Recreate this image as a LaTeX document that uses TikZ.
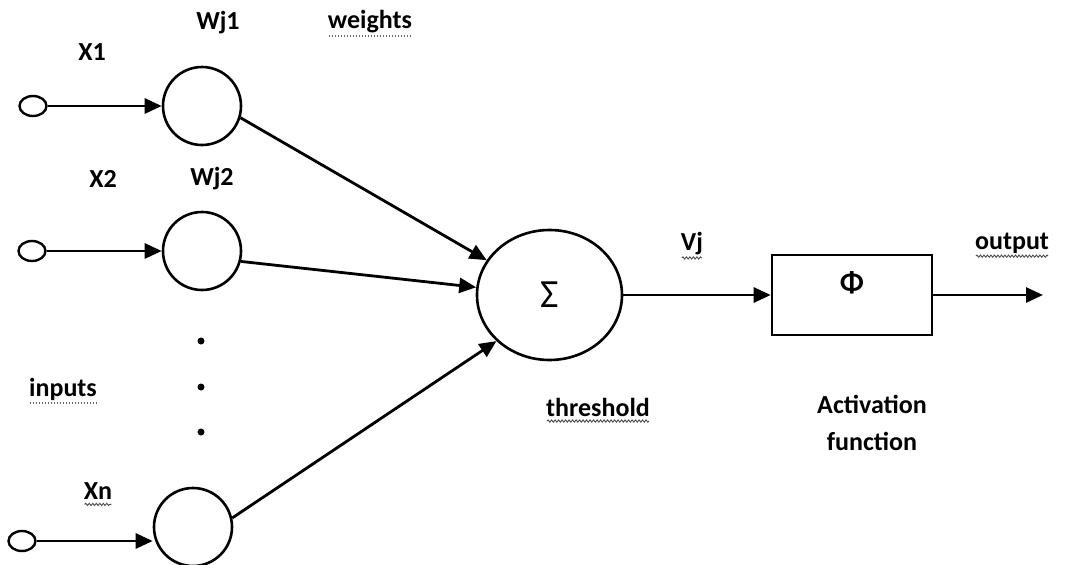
\documentclass[tikz,border=0pt]{standalone}
\usepackage{fontspec}
\setmainfont{Carlito}
\usetikzlibrary{arrows.meta,shapes.geometric,decorations.pathmorphing,calc}

\begin{document}
\begin{tikzpicture}[x=1pt,y=-1pt,
  every node/.style={font=\bfseries\fontsize{26}{37}\selectfont, inner sep=1pt},
  term/.style={draw, ellipse, minimum width=27pt, minimum height=20pt, inner sep=0pt, line width=2.4pt},
  wcirc/.style={draw, circle, minimum size=78pt, inner sep=0pt, line width=2.6pt},
  sumell/.style={draw, ellipse, minimum width=145pt, minimum height=130pt, inner sep=0pt,
                 line width=2.6pt, font=\fontsize{40}{42}\selectfont},
  actbox/.style={draw, rectangle, minimum width=160pt, minimum height=80pt, inner sep=0pt, line width=2.6pt},
  dotmark/.style={circle, fill, minimum size=7pt, inner sep=0pt},
  conn/.style={line width=2.8pt, -{Triangle[length=17pt,width=15pt]}},
  squiggle/.style={draw=black!70, line width=0.9pt, decorate,
                   decoration={snake, segment length=3.5pt, amplitude=1.1pt}},
  dotline/.style={draw=black!60, line width=1.3pt, dash pattern=on 1.5pt off 1.5pt},
]
\useasboundingbox (0,0) rectangle (1069,565);

% input terminals
\node[term] (i1) at (33,106) {};
\node[term] (i2) at (32,251) {};
\node[term] (in) at (22,541) {};

% weight neurons
\node[wcirc] (w1) at (202,106) {};
\node[wcirc] (w2) at (202,251) {};
\node[wcirc] (wn) at (193,527) {};

% ellipsis between the weights
\node[dotmark] (d1) at (201,341) {};
\node[dotmark] (d2) at (201,387) {};
\node[dotmark] (d3) at (201,432) {};

% summation, activation, output
\node[sumell] (sum) at (549.5,295) {\normalfont Σ};
\node[actbox] (act) at (852,295) {};
\node (phi) at (852,283) {\fontsize{30}{32}\selectfont Φ};
\coordinate (out) at (1043,295);

% connectors
\draw[conn] (i1.east) -- (w1.west);
\draw[conn] (i2.east) -- (w2.west);
\draw[conn] (in.east) -- (in.east -| wn.west);
\draw[conn] (w1.-17) -- (sum.151);
\draw[conn] (w2.-15) -- (sum.174);
\draw[conn] (wn.13) -- (sum.221);
\draw[conn] (sum.east) -- (act.west);
\draw[conn] (act.east) -- (out);

% labels
\node (x1) at (92,52) {X1};
\node (wj1) at (218,23) {Wj1};
\node (wts) at (370,22) {weights};
\node (x2) at (103,179) {X2};
\node (wj2) at (212,179) {Wj2};
\node (inp) at (63,389) {inputs};
\node (xn) at (98,491) {Xn};
\node (vj) at (692,244) {Vj};
\node (outl) at (1012,243) {output};
\node (thr) at (598,407) {threshold};
\node[align=center] (actl) at (872,423) {Activation\\function};

% proofing underlines
\draw[dotline] ($(wts.base west)+(2,7)$) -- ($(wts.base east)+(-2,7)$);
\draw[dotline] ($(inp.base west)+(2,7)$) -- ($(inp.base east)+(-2,7)$);
\draw[squiggle] ($(xn.base west)+(2,5)$) -- ($(xn.base east)+(-2,5)$);
\draw[squiggle] ($(vj.base west)+(2,7)$) -- ($(vj.base east)+(-2,7)$);
\draw[squiggle] ($(outl.base west)+(2,7)$) -- ($(outl.base east)+(-2,7)$);
\draw[squiggle] ($(thr.base west)+(2,5)$) -- ($(thr.base east)+(-2,5)$);
\end{tikzpicture}
\end{document}
